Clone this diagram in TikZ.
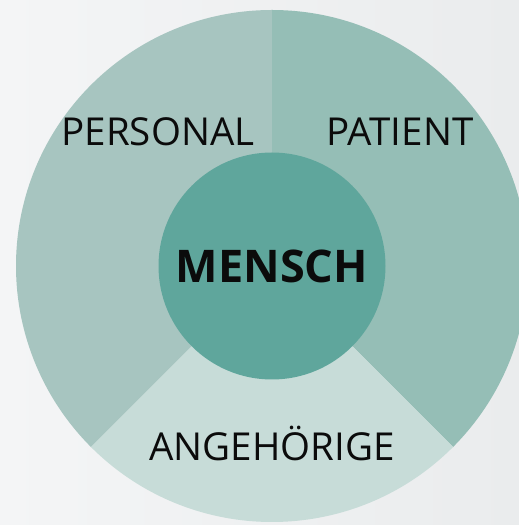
\documentclass[tikz,border=0pt]{standalone}
\usepackage{fontspec}
\setmainfont{Open Sans}
\definecolor{bgc}{HTML}{EAECED}
\definecolor{bgl}{HTML}{F4F5F6}
\definecolor{persc}{HTML}{A7C5C0}
\definecolor{patc}{HTML}{95BEB6}
\definecolor{angc}{HTML}{C7DCD8}
\definecolor{menc}{HTML}{5FA69C}
\definecolor{txtc}{HTML}{0B0B0B}
\tikzset{
  lbl/.style={text=txtc, font=\fontsize{38.5}{42}\selectfont, inner sep=0pt},
  core/.style={circle, fill=menc, minimum size=227pt, inner sep=0pt, text=txtc, font=\fontsize{45}{50}\selectfont\bfseries}
}
\begin{document}
\begin{tikzpicture}[x=1pt,y=1pt]
\useasboundingbox (0,0) rectangle (519,525);
\shade[left color=bgl, right color=bgc] (0,0) rectangle (519,525);
\begin{scope}
\clip (0,0) rectangle (519,525);
\coordinate (c) at (272,259);
\fill[persc] (c) -- ++(90:256) arc[start angle=90,end angle=225,radius=256] -- cycle;
\fill[patc] (c) -- ++(90:256) arc[start angle=90,end angle=-45,radius=256] -- cycle;
\fill[angc] (c) -- ++(225:256) arc[start angle=225,end angle=315,radius=256] -- cycle;
\end{scope}
\node[core] (mensch) at (272,259) {MENSCH};
\node[lbl] (personal) at (158,393) {PERSONAL};
\node[lbl] (patient) at (400,393) {PATIENT};
\node[lbl] (ang) at (272,82) {ANGEHÖRIGE};
\end{tikzpicture}
\end{document}
